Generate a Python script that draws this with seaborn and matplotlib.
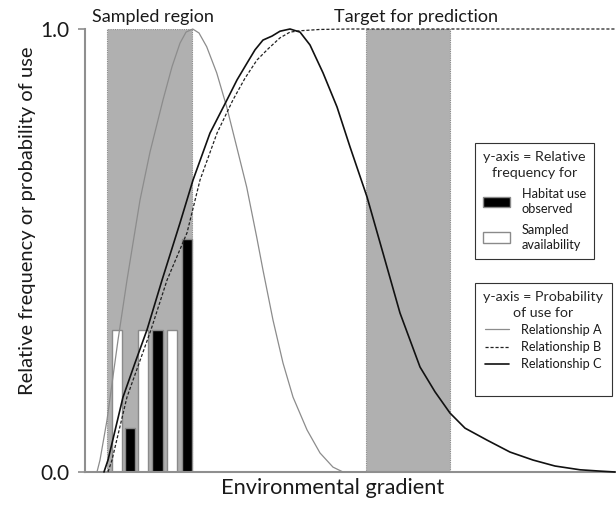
import numpy as np
import pandas as pd
import matplotlib
matplotlib.use("Agg")
import matplotlib.pyplot as plt
from matplotlib.patches import Patch
from matplotlib.lines import Line2D
import seaborn as sns

# ---- data -------------------------------------------------------------
# Environmental gradient runs 0..100; probabilities / frequencies run 0..1
sampled_region = (4.15, 20.19)
target_region = (53.02, 68.87)

# Relative frequency histograms inside the sampled region
avail_x = [6.04, 10.94, 16.42]
avail_freq = [0.32, 0.32, 0.32]
use_x = [8.49, 13.68, 19.25]
use_freq = [0.10, 0.32, 0.526]
bar_w = 1.89

# Relationship A: narrow peak at the edge of the sampled region
a_x = [2.26, 2.83, 4.15, 6.23, 7.92, 10.38, 12.26, 14.72, 16.42, 17.92,
       19.06, 20.32, 21.51, 22.96, 24.85, 26.74, 28.62, 30.51, 32.40, 33.58,
       35.47, 37.36, 39.25, 41.89, 44.34, 46.79, 48.68, 53.02]
a_y = [0.0, 0.027, 0.117, 0.298, 0.433, 0.614, 0.722, 0.840, 0.915, 0.968,
       0.993, 1.0, 0.991, 0.960, 0.901, 0.824, 0.734, 0.643, 0.530, 0.456,
       0.343, 0.246, 0.169, 0.095, 0.043, 0.011, 0.0, 0.0]

# Relationship B: saturating response
b_x = [4.34, 5.09, 7.92, 12.45, 15.47, 19.25, 21.70, 24.91, 27.92, 30.19,
       32.45, 34.53, 36.79, 38.68, 40.57, 44.34, 50.0, 59.43, 100.0]
b_y = [0.0, 0.027, 0.169, 0.321, 0.433, 0.540, 0.659, 0.765, 0.840, 0.889,
       0.930, 0.955, 0.980, 0.993, 0.996, 0.999, 1.0, 1.0, 1.0]

# Relationship C: broad unimodal response
c_x = [3.58, 4.34, 7.17, 9.43, 11.70, 14.53, 17.92, 20.38, 23.58, 26.79,
       28.68, 30.57, 32.08, 33.58, 35.28, 36.79, 38.68, 40.57, 42.45, 43.58,
       44.91, 47.55, 50.0, 53.21, 56.23, 59.43, 61.32, 63.21, 66.04, 68.87,
       71.70, 75.85, 80.19, 84.53, 88.68, 93.40, 97.17, 100.0]
c_y = [0.0, 0.027, 0.169, 0.246, 0.321, 0.433, 0.562, 0.659, 0.765, 0.840,
       0.885, 0.923, 0.953, 0.975, 0.984, 0.995, 1.0, 0.993, 0.964, 0.935,
       0.901, 0.824, 0.734, 0.621, 0.494, 0.359, 0.298, 0.237, 0.181, 0.133,
       0.099, 0.072, 0.045, 0.027, 0.0135, 0.005, 0.002, 0.0]

# ---- style ------------------------------------------------------------
sns.set_theme(style="white")
plt.rcParams["font.family"] = ["Lato", "DejaVu Sans"]
text_color = "#1a1a1a"
axis_gray = "#8f8f8f"
shade = "#b0b0b0"

fig = plt.figure(figsize=(6.16, 5.09), dpi=100)
ax = fig.add_axes([85 / 616, 37 / 509, 530 / 616, 443 / 509])

# shaded ranges of the gradient
for lo, hi in (sampled_region, target_region):
    ax.axvspan(lo, hi, ymin=0, ymax=1, facecolor=shade, edgecolor="#8a8a8a",
               linestyle=(0, (1, 1)), linewidth=0.8, zorder=1)

# histograms
ax.bar(avail_x, avail_freq, width=bar_w, color="white", edgecolor="#8a8a8a",
       linewidth=1.0, zorder=2)
ax.bar(use_x, use_freq, width=bar_w, color="black", edgecolor="#8a8a8a",
       linewidth=1.0, zorder=2)

# response curves
df_a = pd.DataFrame({"x": a_x, "y": a_y})
df_b = pd.DataFrame({"x": b_x, "y": b_y})
df_c = pd.DataFrame({"x": c_x, "y": c_y})
sns.lineplot(data=df_a, x="x", y="y", ax=ax, color="#8c8c8c", linewidth=0.9,
             estimator=None, zorder=3, clip_on=False)
sns.lineplot(data=df_b, x="x", y="y", ax=ax, color="#222222", linewidth=0.9,
             linestyle=(0, (2.5, 1.5)), estimator=None, zorder=3, clip_on=False)
sns.lineplot(data=df_c, x="x", y="y", ax=ax, color="#111111", linewidth=1.2,
             estimator=None, zorder=4, clip_on=False)

# axes
ax.set_xlim(0, 100)
ax.set_ylim(0, 1)
ax.set_xticks([])
ax.set_yticks([0.0, 1.0])
ax.set_yticklabels(["0.0", "1.0"])
ax.tick_params(axis="y", left=True, length=5, width=1.2, color=axis_gray,
               pad=6, labelsize=15, labelcolor=text_color)
for side in ("top", "right"):
    ax.spines[side].set_visible(False)
for side in ("left", "bottom"):
    ax.spines[side].set_color(axis_gray)
    ax.spines[side].set_linewidth(1.5)

ax.set_xlabel("Environmental gradient", fontsize=15.7, color=text_color)
ax.xaxis.set_label_coords(0.468, -0.014)
ax.xaxis.label.set_va("top")
ax.set_ylabel("Relative frequency or probability of use", fontsize=14.5,
              color=text_color)
ax.yaxis.set_label_coords(-0.092, 0.567)

# region captions
ax.text(12.74, 1.027, "Sampled region", transform=ax.get_xaxis_transform(),
        ha="center", va="center", fontsize=13, color=text_color)
ax.text(62.45, 1.027, "Target for prediction", transform=ax.get_xaxis_transform(),
        ha="center", va="center", fontsize=13, color=text_color)

# legends
leg_kw = dict(frameon=True, fancybox=False, framealpha=1, edgecolor="#333333",
              fontsize=9.2, title_fontsize=10.3, labelcolor=text_color,
              handletextpad=0.9, borderpad=0.65,
              borderaxespad=0, loc="upper left", alignment="center",
              bbox_transform=fig.transFigure)


def style_legend(leg):
    leg.get_frame().set_linewidth(0.8)
    title = leg.get_title()
    title.set_multialignment("center")
    title.set_linespacing(1.35)
    for t in leg.get_texts():
        t.set_linespacing(1.3)


h1 = [Patch(facecolor="black", edgecolor="#8a8a8a"),
      Patch(facecolor="white", edgecolor="#8a8a8a")]
leg1 = ax.legend(h1, ["Habitat use\nobserved", "Sampled\navailability"],
                 title="y-axis = Relative\nfrequency for",
                 bbox_to_anchor=(475 / 616, 1 - 143 / 509),
                 handlelength=2.1, handleheight=0.9, labelspacing=0.7,
                 **leg_kw)
style_legend(leg1)
ax.add_artist(leg1)

h2 = [Line2D([], [], color="#8c8c8c", linewidth=0.9),
      Line2D([], [], color="#222222", linewidth=0.9, linestyle=(0, (2.5, 1.5))),
      Line2D([], [], color="#111111", linewidth=1.2),
      Line2D([], [], alpha=0)]
leg2 = ax.legend(h2, ["Relationship A", "Relationship B", "Relationship C", " "],
                 title="y-axis = Probability\nof use for",
                 bbox_to_anchor=(475 / 616, 1 - 283 / 509),
                 handlelength=1.9, labelspacing=0.4, **leg_kw)
style_legend(leg2)

fig.savefig("out.png", dpi=100)
